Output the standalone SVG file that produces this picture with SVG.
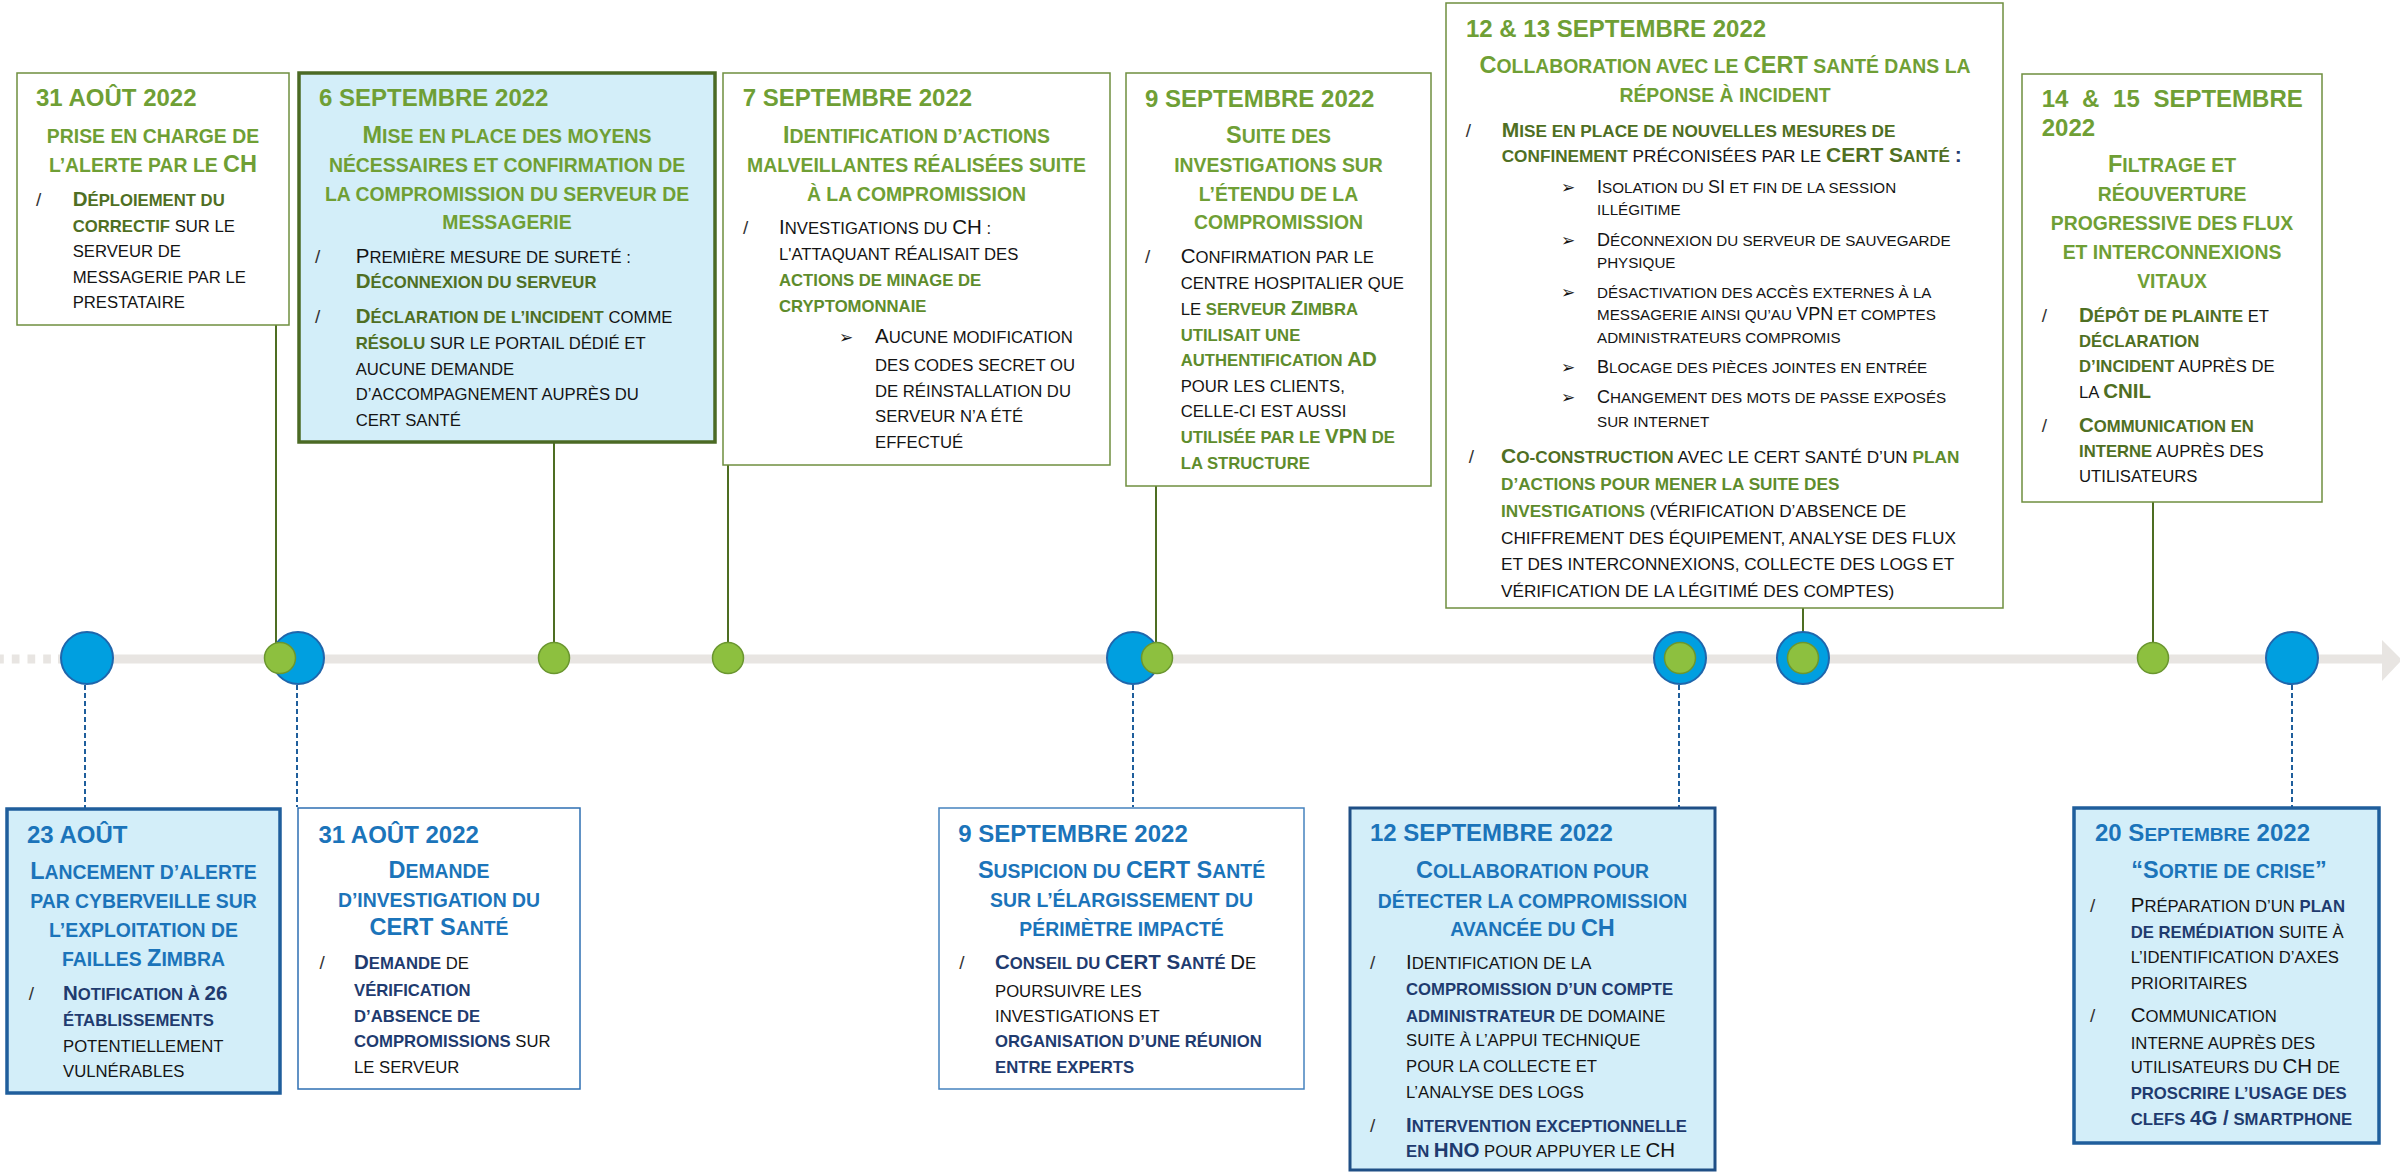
<svg xmlns="http://www.w3.org/2000/svg" width="2400" height="1172" viewBox="0 0 2400 1172">
<style>
text{font-family:"Liberation Sans",Arial,sans-serif}
.d{font-size:24px;font-weight:700}
.g{fill:#6F9F35}
.u{fill:#1B74BA}
.s{font-size:19.4px;font-weight:700;text-anchor:middle}
.T{font-size:23.5px}
.t{font-size:16.7px;fill:#141414}
.t2{font-size:17.2px;fill:#141414}
.C{font-size:20.5px}
.C2{font-size:21px}
.x{font-size:15.2px;fill:#141414}
.X{font-size:18px}
.bg{font-weight:700;fill:#4F6F23}
.bm{font-weight:700;fill:#5E8C2C}
.bn{font-weight:700;fill:#1F3B6F}
.sl{font-size:19px;fill:#333}
.ar{font-family:"DejaVu Sans",sans-serif;font-size:17px;fill:#141414}
.gb{fill:#fff;stroke:#6F8F3F;stroke-width:1.5}
.gB{fill:#D3EEF9;stroke:#4B6A24;stroke-width:3.5}
.bb{fill:#fff;stroke:#2E6FB2;stroke-width:1.5}
.bB{fill:#D3EEF9;stroke:#1F5E9C;stroke-width:3.5}
.cb{fill:#009FE0;stroke:#1F66AC;stroke-width:2}
.cg{fill:#8DC03F;stroke:#6A962F;stroke-width:1.5}
.lg{stroke:#4E6E22;stroke-width:2;fill:none}
.lb{stroke:#1F5E9C;stroke-width:2;stroke-dasharray:5 3;fill:none}
</style>

<g id="timeline">
<line x1="-3.9" y1="659" x2="52" y2="659" stroke="#E8E5E2" stroke-width="9" stroke-dasharray="7.7 8"/>
<line x1="58" y1="659" x2="2383" y2="659" stroke="#E8E5E2" stroke-width="9"/>
<polygon points="2382,640 2402,660 2382,681" fill="#E8E5E2"/>
</g>

<g id="connectors">
<line class="lg" x1="276" y1="325" x2="276" y2="648"/>
<line class="lg" x1="554" y1="442" x2="554" y2="643"/>
<line class="lg" x1="728" y1="465" x2="728" y2="643"/>
<line class="lg" x1="1156" y1="486" x2="1156" y2="643"/>
<line class="lg" x1="1803" y1="608" x2="1803" y2="633"/>
<line class="lg" x1="2153" y1="502" x2="2153" y2="643"/>
<line class="lb" x1="85" y1="685" x2="85" y2="808"/>
<line class="lb" x1="297" y1="685" x2="297" y2="807"/>
<line class="lb" x1="1133" y1="685" x2="1133" y2="807"/>
<line class="lb" x1="1679" y1="685" x2="1679" y2="807"/>
<line class="lb" x1="2292" y1="685" x2="2292" y2="807"/>
</g>

<g id="markers">
<circle class="cb" cx="87" cy="658" r="26"/>
<circle class="cb" cx="298" cy="658" r="26"/>
<circle class="cg" cx="280" cy="658" r="15.5"/>
<circle class="cg" cx="554" cy="658" r="15.5"/>
<circle class="cg" cx="728" cy="658" r="15.5"/>
<circle class="cb" cx="1133" cy="658" r="26"/>
<circle class="cg" cx="1157" cy="658" r="15.5"/>
<circle class="cb" cx="1680" cy="658" r="26"/>
<circle class="cg" cx="1680" cy="658" r="15.5"/>
<circle class="cb" cx="1803" cy="658" r="26"/>
<circle class="cg" cx="1803" cy="658" r="15.5"/>
<circle class="cg" cx="2153" cy="658" r="15.5"/>
<circle class="cb" cx="2292" cy="658" r="26"/>
</g>

<g id="n-31aout-ch">
<rect class="gb" x="17" y="73" width="272" height="252"/>
<text class="d g" x="36" y="106">31 AOÛT 2022</text>
<text class="s g" x="153" y="142.7">PRISE EN CHARGE DE</text>
<text class="s g" x="153" y="171.7">L’ALERTE PAR LE <tspan class="T">CH</tspan></text>
<text class="sl" x="36" y="205.7">/</text>
<text class="t" x="72.7" y="205.7"><tspan class="bg"><tspan class="C">D</tspan>ÉPLOIEMENT DU</tspan></text>
<text class="t" x="72.7" y="231.7"><tspan class="bg">CORRECTIF</tspan> SUR LE</text>
<text class="t" x="72.7" y="256.7">SERVEUR DE</text>
<text class="t" x="72.7" y="282.7">MESSAGERIE PAR LE</text>
<text class="t" x="72.7" y="308.3">PRESTATAIRE</text>
</g>

<g id="n-6sept">
<rect class="gB" x="299" y="73" width="416" height="369"/>
<text class="d g" x="319" y="106">6 SEPTEMBRE 2022</text>
<text class="s g" x="507" y="142.7"><tspan class="T">M</tspan>ISE EN PLACE DES MOYENS</text>
<text class="s g" x="507" y="171.7">NÉCESSAIRES ET CONFIRMATION DE</text>
<text class="s g" x="507" y="200.7">LA COMPROMISSION DU SERVEUR DE</text>
<text class="s g" x="507" y="229">MESSAGERIE</text>
<text class="sl" x="315" y="263.3">/</text>
<text class="t" x="355.7" y="263.3"><tspan class="C">P</tspan>REMIÈRE MESURE DE SURETÉ :</text>
<text class="t" x="355.7" y="288.3"><tspan class="bg"><tspan class="C">D</tspan>ÉCONNEXION DU SERVEUR</tspan></text>
<text class="sl" x="315" y="323.3">/</text>
<text class="t" x="355.7" y="323.3"><tspan class="bg"><tspan class="C">D</tspan>ÉCLARATION DE L’INCIDENT</tspan> COMME</text>
<text class="t" x="355.7" y="349"><tspan class="bg">RÉSOLU</tspan> SUR LE PORTAIL DÉDIÉ ET</text>
<text class="t" x="355.7" y="374.5">AUCUNE DEMANDE</text>
<text class="t" x="355.7" y="400">D’ACCOMPAGNEMENT AUPRÈS DU</text>
<text class="t" x="355.7" y="425.5">CERT SANTÉ</text>
</g>

<g id="n-7sept">
<rect class="gb" x="723" y="73" width="387" height="392"/>
<text class="d g" x="742.7" y="106">7 SEPTEMBRE 2022</text>
<text class="s g" x="916.5" y="142.7"><tspan class="T">I</tspan>DENTIFICATION D’ACTIONS</text>
<text class="s g" x="916.5" y="171.7">MALVEILLANTES RÉALISÉES SUITE</text>
<text class="s g" x="916.5" y="200.7">À LA COMPROMISSION</text>
<text class="sl" x="743" y="234.3">/</text>
<text class="t" x="779" y="234.3"><tspan class="C">I</tspan>NVESTIGATIONS DU <tspan class="C">CH</tspan> :</text>
<text class="t" x="779" y="260">L'ATTAQUANT RÉALISAIT DES</text>
<text class="t" x="779" y="286"><tspan class="bm">ACTIONS DE MINAGE DE</tspan></text>
<text class="t" x="779" y="311.7"><tspan class="bm">CRYPTOMONNAIE</tspan></text>
<text class="ar" x="839" y="343.3">➢</text>
<text class="t" x="875" y="343.3"><tspan class="C">A</tspan>UCUNE MODIFICATION</text>
<text class="t" x="875" y="370.7">DES CODES SECRET OU</text>
<text class="t" x="875" y="396.7">DE RÉINSTALLATION DU</text>
<text class="t" x="875" y="421.7">SERVEUR N’A ÉTÉ</text>
<text class="t" x="875" y="447.7">EFFECTUÉ</text>
</g>

<g id="n-9sept-top">
<rect class="gb" x="1126" y="73" width="305" height="413"/>
<text class="d g" x="1145" y="106.7">9 SEPTEMBRE 2022</text>
<text class="s g" x="1278.5" y="143.3"><tspan class="T">S</tspan>UITE DES</text>
<text class="s g" x="1278.5" y="172.3">INVESTIGATIONS SUR</text>
<text class="s g" x="1278.5" y="201">L’ÉTENDU DE LA</text>
<text class="s g" x="1278.5" y="229.3">COMPROMISSION</text>
<text class="sl" x="1145" y="263.3">/</text>
<text class="t" x="1180.7" y="263.3"><tspan class="C">C</tspan>ONFIRMATION PAR LE</text>
<text class="t" x="1180.7" y="289.3">CENTRE HOSPITALIER QUE</text>
<text class="t" x="1180.7" y="315">LE <tspan class="bm">SERVEUR <tspan class="C">Z</tspan>IMBRA</tspan></text>
<text class="t" x="1180.7" y="340.7"><tspan class="bm">UTILISAIT UNE</tspan></text>
<text class="t" x="1180.7" y="366"><tspan class="bm">AUTHENTIFICATION <tspan class="C">AD</tspan></tspan></text>
<text class="t" x="1180.7" y="391.7">POUR LES CLIENTS,</text>
<text class="t" x="1180.7" y="417.3">CELLE-CI EST AUSSI</text>
<text class="t" x="1180.7" y="443"><tspan class="bm">UTILISÉE PAR LE <tspan class="C">VPN</tspan> DE</tspan></text>
<text class="t" x="1180.7" y="468.5"><tspan class="bm">LA STRUCTURE</tspan></text>
</g>

<g id="n-12-13sept">
<rect class="gb" x="1446" y="3" width="557" height="605"/>
<text class="d g" x="1466" y="36.7">12 &amp; 13 SEPTEMBRE 2022</text>
<text class="s g" x="1725" y="72.7"><tspan class="T">C</tspan>OLLABORATION AVEC LE <tspan class="T">CERT</tspan> SANTÉ DANS LA</text>
<text class="s g" x="1725" y="101.7">RÉPONSE À INCIDENT</text>
<text class="sl" x="1465.7" y="136.7">/</text>
<text class="t2" x="1501.7" y="136.7"><tspan class="bg"><tspan class="C2">M</tspan>ISE EN PLACE DE NOUVELLES MESURES DE</tspan></text>
<text class="t2" x="1501.7" y="161.7"><tspan class="bg">CONFINEMENT</tspan> PRÉCONISÉES PAR LE <tspan class="bg"><tspan class="C2">CERT S</tspan>ANTÉ </tspan><tspan class="bn C2">:</tspan></text>
<text class="ar" x="1561" y="193.3">➢</text>
<text class="x" x="1597" y="193.3"><tspan class="X">I</tspan>SOLATION DU <tspan class="X">SI</tspan>  ET FIN DE LA SESSION</text>
<text class="x" x="1597" y="215">ILLÉGITIME</text>
<text class="ar" x="1561" y="246">➢</text>
<text class="x" x="1597" y="246"><tspan class="X">D</tspan>ÉCONNEXION DU SERVEUR DE SAUVEGARDE</text>
<text class="x" x="1597" y="267.7">PHYSIQUE</text>
<text class="ar" x="1561" y="298.3">➢</text>
<text class="x" x="1597" y="298.3">DÉSACTIVATION DES ACCÈS EXTERNES À LA</text>
<text class="x" x="1597" y="320">MESSAGERIE AINSI QU’AU <tspan class="X">VPN</tspan> ET COMPTES</text>
<text class="x" x="1597" y="342.7">ADMINISTRATEURS COMPROMIS</text>
<text class="ar" x="1561" y="373.3">➢</text>
<text class="x" x="1597" y="373.3"><tspan class="X">B</tspan>LOCAGE DES PIÈCES JOINTES EN ENTRÉE</text>
<text class="ar" x="1561" y="403.3">➢</text>
<text class="x" x="1597" y="403.3"><tspan class="X">C</tspan>HANGEMENT DES MOTS DE PASSE EXPOSÉS</text>
<text class="x" x="1597" y="426.7">SUR INTERNET</text>
<text class="sl" x="1468.7" y="463.3">/</text>
<text class="t2" x="1501" y="463.3"><tspan class="bg"><tspan class="C2">C</tspan>O-CONSTRUCTION</tspan> AVEC LE  CERT SANTÉ D’UN <tspan class="bm">PLAN</tspan></text>
<text class="t2" x="1501" y="490"><tspan class="bm">D’ACTIONS POUR MENER LA SUITE DES</tspan></text>
<text class="t2" x="1501" y="516.7"><tspan class="bm">INVESTIGATIONS</tspan> (VÉRIFICATION D’ABSENCE DE</text>
<text class="t2" x="1501" y="544">CHIFFREMENT DES ÉQUIPEMENT, ANALYSE DES FLUX</text>
<text class="t2" x="1501" y="570">ET DES INTERCONNEXIONS, COLLECTE DES LOGS ET</text>
<text class="t2" x="1501" y="596.7">VÉRIFICATION DE LA LÉGITIMÉ DES COMPTES)</text>
</g>

<g id="n-14-15sept">
<rect class="gb" x="2022" y="74" width="300" height="428"/>
<text class="d g" x="2041.7" y="106.7" word-spacing="7">14 &amp; 15 SEPTEMBRE</text>
<text class="d g" x="2041.7" y="136">2022</text>
<text class="s g" x="2172" y="171.7"><tspan class="T">F</tspan>ILTRAGE ET</text>
<text class="s g" x="2172" y="200.7">RÉOUVERTURE</text>
<text class="s g" x="2172" y="230">PROGRESSIVE DES FLUX</text>
<text class="s g" x="2172" y="259">ET INTERCONNEXIONS</text>
<text class="s g" x="2172" y="287.7">VITAUX</text>
<text class="sl" x="2041.7" y="321.7">/</text>
<text class="t" x="2079" y="321.7"><tspan class="bg"><tspan class="C">D</tspan>ÉPÔT DE PLAINTE</tspan> ET</text>
<text class="t" x="2079" y="347.3"><tspan class="bg">DÉCLARATION</tspan></text>
<text class="t" x="2079" y="372.3"><tspan class="bg">D’INCIDENT</tspan> AUPRÈS DE</text>
<text class="t" x="2079" y="398.3">LA <tspan class="bg C">CNIL</tspan></text>
<text class="sl" x="2041.7" y="431.7">/</text>
<text class="t" x="2079" y="431.7"><tspan class="bg"><tspan class="C">C</tspan>OMMUNICATION EN</tspan></text>
<text class="t" x="2079" y="456.7"><tspan class="bg">INTERNE</tspan> AUPRÈS DES</text>
<text class="t" x="2079" y="482">UTILISATEURS</text>
</g>

<g id="n-23aout">
<rect class="bB" x="7" y="809" width="273" height="284"/>
<text class="d u" x="27" y="842.7">23 AOÛT</text>
<text class="s u" x="143.5" y="879.3"><tspan class="T">L</tspan>ANCEMENT D’ALERTE</text>
<text class="s u" x="143.5" y="908.3">PAR CYBERVEILLE SUR</text>
<text class="s u" x="143.5" y="937.3">L’EXPLOITATION DE</text>
<text class="s u" x="143.5" y="966">FAILLES <tspan class="T">Z</tspan>IMBRA</text>
<text class="sl" x="28.7" y="1000">/</text>
<text class="t" x="63" y="1000"><tspan class="bn"><tspan class="C">N</tspan>OTIFICATION À <tspan class="C">26</tspan></tspan></text>
<text class="t" x="63" y="1026"><tspan class="bn">ÉTABLISSEMENTS</tspan></text>
<text class="t" x="63" y="1051.7">POTENTIELLEMENT</text>
<text class="t" x="63" y="1077.3">VULNÉRABLES</text>
</g>

<g id="n-31aout-cert">
<rect class="bb" x="298" y="808" width="282" height="281"/>
<text class="d u" x="318.4" y="842.7">31 AOÛT 2022</text>
<text class="s u" x="439" y="878.3"><tspan class="T">D</tspan>EMANDE</text>
<text class="s u" x="439" y="907.3">D’INVESTIGATION DU</text>
<text class="s u" x="439" y="935"><tspan class="T">CERT S</tspan>ANTÉ</text>
<text class="sl" x="319.6" y="969.3">/</text>
<text class="t" x="354" y="969.3"><tspan class="bn"><tspan class="C">D</tspan>EMANDE</tspan> DE</text>
<text class="t" x="354" y="996"><tspan class="bn">VÉRIFICATION</tspan></text>
<text class="t" x="354" y="1021.7"><tspan class="bn">D’ABSENCE DE</tspan></text>
<text class="t" x="354" y="1047.3"><tspan class="bn">COMPROMISSIONS</tspan> SUR</text>
<text class="t" x="354" y="1073.3">LE SERVEUR</text>
</g>

<g id="n-9sept-cert">
<rect class="bb" x="939" y="808" width="365" height="281" style="stroke:#4682BE"/>
<text class="d u" x="958.3" y="841.7">9 SEPTEMBRE 2022</text>
<text class="s u" x="1121.5" y="878.3"><tspan class="T">S</tspan>USPICION DU <tspan class="T">CERT S</tspan>ANTÉ</text>
<text class="s u" x="1121.5" y="907.3">SUR L’ÉLARGISSEMENT DU</text>
<text class="s u" x="1121.5" y="936">PÉRIMÈTRE IMPACTÉ</text>
<text class="sl" x="959.3" y="969.3">/</text>
<text class="t" x="995" y="969.3"><tspan class="bn"><tspan class="C">C</tspan>ONSEIL DU <tspan class="C">CERT S</tspan>ANTÉ</tspan> <tspan class="C">D</tspan>E</text>
<text class="t" x="995" y="996.7">POURSUIVRE LES</text>
<text class="t" x="995" y="1022.3">INVESTIGATIONS ET</text>
<text class="t" x="995" y="1047.3"><tspan class="bn">ORGANISATION D’UNE RÉUNION</tspan></text>
<text class="t" x="995" y="1073.3"><tspan class="bn">ENTRE EXPERTS</tspan></text>
</g>

<g id="n-12sept">
<rect class="bB" x="1350" y="808" width="365" height="362" style="stroke:#1F4F86;stroke-width:3"/>
<text class="d u" x="1370" y="841">12 SEPTEMBRE 2022</text>
<text class="s u" x="1532.5" y="878"><tspan class="T">C</tspan>OLLABORATION POUR</text>
<text class="s u" x="1532.5" y="907.6">DÉTECTER LA COMPROMISSION</text>
<text class="s u" x="1532.5" y="935.7">AVANCÉE DU <tspan class="T">CH</tspan></text>
<text class="sl" x="1370" y="969">/</text>
<text class="t" x="1406" y="969"><tspan class="C">I</tspan>DENTIFICATION DE LA</text>
<text class="t" x="1406" y="995"><tspan class="bn">COMPROMISSION D’UN COMPTE</tspan></text>
<text class="t" x="1406" y="1021.6"><tspan class="bn">ADMINISTRATEUR</tspan> DE DOMAINE</text>
<text class="t" x="1406" y="1046">SUITE À L’APPUI TECHNIQUE</text>
<text class="t" x="1406" y="1072">POUR LA COLLECTE ET</text>
<text class="t" x="1406" y="1097.7">L’ANALYSE DES LOGS</text>
<text class="sl" x="1370" y="1132">/</text>
<text class="t" x="1406" y="1132"><tspan class="bn"><tspan class="C">I</tspan>NTERVENTION EXCEPTIONNELLE</tspan></text>
<text class="t" x="1406" y="1157"><tspan class="bn">EN <tspan class="C">HNO</tspan></tspan> POUR APPUYER LE <tspan class="C">CH</tspan></text>
</g>

<g id="n-20sept">
<rect class="bB" x="2074" y="808" width="305" height="335"/>
<text class="d u" x="2095" y="841.4">20 S<tspan style="font-size:19px">EPTEMBRE</tspan> 2022</text>
<text class="s u" x="2229" y="877.6"><tspan class="T">“S</tspan>ORTIE DE CRISE<tspan class="T">”</tspan></text>
<text class="sl" x="2090" y="912.4">/</text>
<text class="t" x="2130.7" y="912.4"><tspan class="C">P</tspan>RÉPARATION D’UN <tspan class="bn">PLAN</tspan></text>
<text class="t" x="2130.7" y="937.8"><tspan class="bn">DE REMÉDIATION</tspan> SUITE À</text>
<text class="t" x="2130.7" y="963.1">L’IDENTIFICATION D’AXES</text>
<text class="t" x="2130.7" y="989.2">PRIORITAIRES</text>
<text class="sl" x="2090" y="1022.3">/</text>
<text class="t" x="2130.7" y="1022.3"><tspan class="C">C</tspan>OMMUNICATION</text>
<text class="t" x="2130.7" y="1048.7">INTERNE AUPRÈS DES</text>
<text class="t" x="2130.7" y="1073">UTILISATEURS DU <tspan class="C">CH</tspan> DE</text>
<text class="t" x="2130.7" y="1099.4"><tspan class="bn">PROSCRIRE L’USAGE DES</tspan></text>
<text class="t" x="2130.7" y="1125.4"><tspan class="bn">CLEFS <tspan class="C">4G /</tspan> SMARTPHONE</tspan></text>
</g>
</svg>
